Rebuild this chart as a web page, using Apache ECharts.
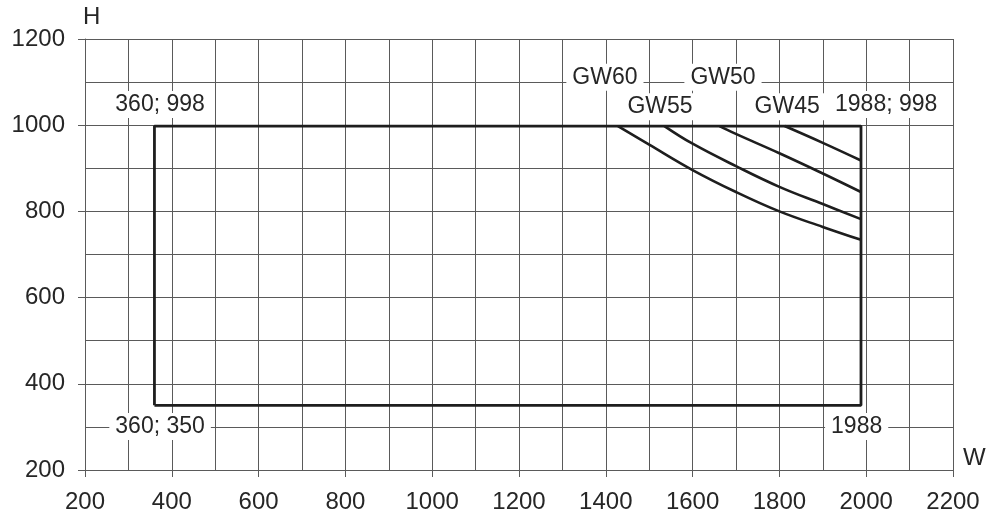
<!DOCTYPE html>
<html>
<head>
<meta charset="utf-8">
<script src="https://cdn.jsdelivr.net/npm/echarts@6/dist/echarts.min.js"></script>
<style>
  html, body { margin: 0; padding: 0; background: #fff; }
  #chart { width: 1000px; height: 524px; }
</style>
</head>
<body>
<div id="chart"></div>
<script>
// outline of the allowed W x H range
const frame = [[360, 350], [360, 998], [1988, 998], [1988, 350], [360, 350]]

// limit curves
const gw60 = [[1428, 998], [1500, 955], [1600, 896], [1700, 845], [1800, 800], [1900, 764], [1988, 734]]
const gw55 = [[1535, 998], [1600, 957], [1700, 905], [1800, 857], [1900, 817], [1988, 782]]
const gw50 = [[1662, 998], [1697, 981], [1800, 935], [1900, 888], [1988, 845]]
const gw45 = [[1812, 998], [1900, 959], [1988, 918]]

// text notes placed in data coordinates
const notes = [
  { name: '360; 998', value: [373, 1048] },
  { name: '1988; 998', value: [2046, 1048] },
  { name: 'GW60', value: [1398, 1111] },
  { name: 'GW50', value: [1670, 1111] },
  { name: 'GW55', value: [1525, 1043] },
  { name: 'GW45', value: [1818, 1043] },
  { name: '360; 350', value: [373, 301] },
  { name: '1988', value: [1978, 301] },
]

const gridColor = '#5a5a5a'
const inkColor = '#1e1e1e'
const textColor = '#262626'
const font = 'Liberation Sans, Arial, sans-serif'

const chart = echarts.init(document.getElementById('chart'), null, { renderer: 'canvas' })

const axisCommon = {
  type: 'value',
  interval: 200,
  axisLine: { show: true, lineStyle: { color: gridColor, width: 1 } },
  axisTick: { show: true, inside: false, length: 7, lineStyle: { color: gridColor, width: 1 } },
  axisLabel: { color: textColor, fontSize: 24, fontFamily: font, margin: 20, formatter: (v) => String(v) },
  splitLine: { show: true, lineStyle: { color: gridColor, width: 1 } },
  minorTick: { show: false, splitNumber: 2 },
  minorSplitLine: { show: true, lineStyle: { color: gridColor, width: 1 } },
  nameTextStyle: { color: textColor, fontSize: 24, fontFamily: font },
}

const curve = (name, data) => ({
  name,
  type: 'line',
  data,
  smooth: 0.4,
  symbol: 'none',
  lineStyle: { color: inkColor, width: 2.6 },
  z: 4,
})

chart.setOption({
  animation: false,
  backgroundColor: '#fff',
  grid: {
    left: 85,
    right: 47,
    top: 39,
    bottom: 54,
    containLabel: false,
  },
  xAxis: {
    ...axisCommon,
    min: 200,
    max: 2200,
    name: 'W',
    nameLocation: 'end',
    nameGap: 10,
    nameTextStyle: { ...axisCommon.nameTextStyle, verticalAlign: 'bottom', align: 'left' },
  },
  yAxis: {
    ...axisCommon,
    min: 200,
    max: 1200,
    name: 'H',
    nameLocation: 'end',
    nameGap: 10,
    nameTextStyle: { ...axisCommon.nameTextStyle, align: 'left', verticalAlign: 'bottom', padding: [0, 0, 0, -2] },
  },
  series: [
    {
      name: 'frame',
      type: 'line',
      data: frame,
      symbol: 'none',
      lineStyle: { color: inkColor, width: 2.8 },
      z: 5,
    },
    curve('GW60', gw60),
    curve('GW55', gw55),
    curve('GW50', gw50),
    curve('GW45', gw45),
    {
      name: 'notes',
      type: 'scatter',
      data: notes,
      symbolSize: 0,
      itemStyle: { opacity: 1 },
      z: 6,
      label: {
        show: true,
        position: 'inside',
        formatter: (p) => p.name,
        color: textColor,
        fontSize: 23,
        fontFamily: font,
        backgroundColor: '#fff',
        padding: [2, 6],
      },
    },
  ],
})
</script>
</body>
</html>
